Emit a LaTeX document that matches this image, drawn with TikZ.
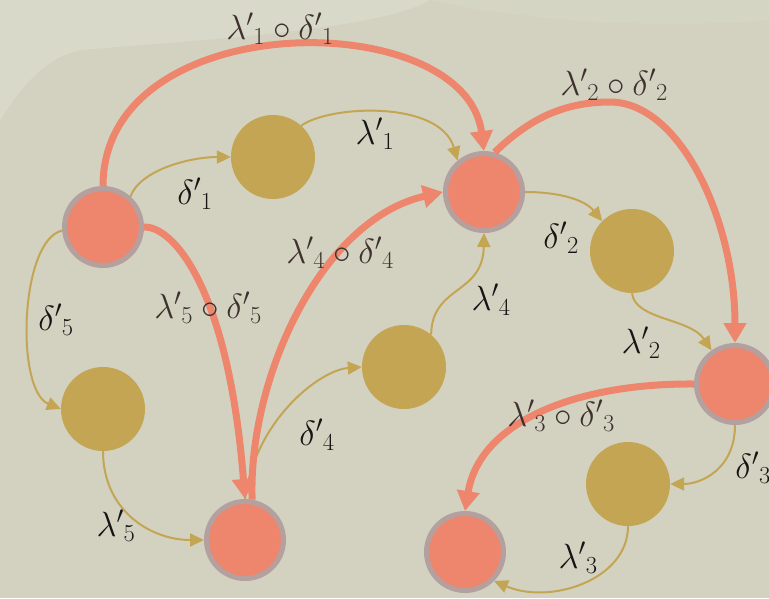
\RequirePackage{fix-cm}
\documentclass[tikz,border=0pt]{standalone}
\usetikzlibrary{arrows.meta}
\definecolor{bgpaper}{HTML}{D3D2C0}
\definecolor{bglight}{HTML}{E4E7D9}
\definecolor{salmon}{HTML}{EE866E}
\definecolor{ringgrey}{HTML}{B4A09E}
\definecolor{gold}{HTML}{C3A554}
\definecolor{labelbrown}{HTML}{3F3130}
\definecolor{labelink}{HTML}{151515}
\begin{document}
\begin{tikzpicture}[x=1pt,y=-1pt,
  state/.style={circle,fill=salmon,draw=ringgrey,line width=5pt,minimum size=77pt,inner sep=0pt},
  sub/.style={circle,fill=gold,minimum size=84pt,inner sep=0pt},
  composite/.style={draw=salmon,line width=7pt,-{Triangle[length=20pt,width=22pt]}},
  single/.style={draw=gold,line width=2pt,-{Triangle[length=14pt,width=13pt]}},
  clab/.style={text=labelbrown,font=\fontsize{35}{42}\selectfont,inner sep=0pt},
  slab/.style={text=labelink,font=\fontsize{35}{42}\selectfont,inner sep=0pt}]
% paper background
\useasboundingbox (0,0) rectangle (769,598);
\fill[bgpaper] (0,0) rectangle (769,598);
\fill[bglight,opacity=0.35] (0,0) -- (430,0) .. controls (380,30) and (200,40) .. (80,50)
  .. controls (40,60) and (20,90) .. (0,120) -- cycle;
\fill[bglight,opacity=0.15] (430,0) -- (769,0) -- (769,20) .. controls (650,30) and (520,20) .. (430,0) -- cycle;

% states
\node[state] (A) at (103,227) {};
\node[state] (B) at (484,192) {};
\node[state] (C) at (735,384) {};
\node[state] (D) at (245,540) {};
\node[state] (E) at (465,552) {};
% intermediate states
\node[sub] (g1) at (273,157) {};
\node[sub] (g2) at (632,251) {};
\node[sub] (g3) at (628,484) {};
\node[sub] (g4) at (404,367) {};
\node[sub] (g5) at (103,409) {};

% single steps
\draw[single] (A.48) .. controls (140,170) and (190,157) .. (g1.west);
\draw[single] (g1.48) .. controls (330,105) and (440,100) .. (B.130);
\draw[single] (B.east) .. controls (560,192) and (585,200) .. (g2.135);
\draw[single] (g2.south) .. controls (635,320) and (690,318) .. (C.125);
\draw[single] (C.south) .. controls (735,470) and (700,484) .. (g3.east);
\draw[single] (g3.south) .. controls (628,580) and (550,605) .. (E.-45);
\draw[single] (D.north) .. controls (255,420) and (320,370) .. (g4.west);
\draw[single] (g4.50) .. controls (432,285) and (483,295) .. (B.south);
\draw[single] (A.185) .. controls (20,240) and (15,390) .. (g5.west);
\draw[single] (g5.south) .. controls (103,510) and (150,540) .. (D.west);

% composed steps
\draw[composite] (A.north) .. controls (103,5) and (465,5) .. (B.north);
\draw[composite] (B.75) .. controls (530,118) and (565,102) .. (610,102)
  .. controls (680,102) and (735,220) .. (C.north);
\draw[composite] (C.west) .. controls (580,383) and (480,420) .. (E.north);
\draw[composite] (D.80) .. controls (248,380) and (320,220) .. (B.west);
\draw[composite] (A.east) .. controls (172,226) and (228,285) .. (D.north);

% labels
\node[clab] (c1) at (280,29) {${\lambda'}_1\circ{\delta'}_1$};
\node[clab] (c2) at (614,85) {${\lambda'}_2\circ{\delta'}_2$};
\node[clab] (c3) at (561,416) {${\lambda'}_3\circ{\delta'}_3$};
\node[clab] (c4) at (340,253) {${\lambda'}_4\circ{\delta'}_4$};
\node[clab] (c5) at (208,308) {${\lambda'}_5\circ{\delta'}_5$};
\node[slab] (d1) at (195,194) {${\delta'}_1$};
\node[slab] (l1) at (375,134) {${\lambda'}_1$};
\node[slab] (d2) at (561,238) {${\delta'}_2$};
\node[slab] (l2) at (641,343) {${\lambda'}_2$};
\node[slab] (d3) at (753,468) {${\delta'}_3$};
\node[slab] (l3) at (578,558) {${\lambda'}_3$};
\node[slab] (d4) at (317,435) {${\delta'}_4$};
\node[slab] (l4) at (491,300) {${\lambda'}_4$};
\node[slab] (d5) at (56,320) {${\delta'}_5$};
\node[slab] (l5) at (116,526) {${\lambda'}_5$};
\end{tikzpicture}
\end{document}
